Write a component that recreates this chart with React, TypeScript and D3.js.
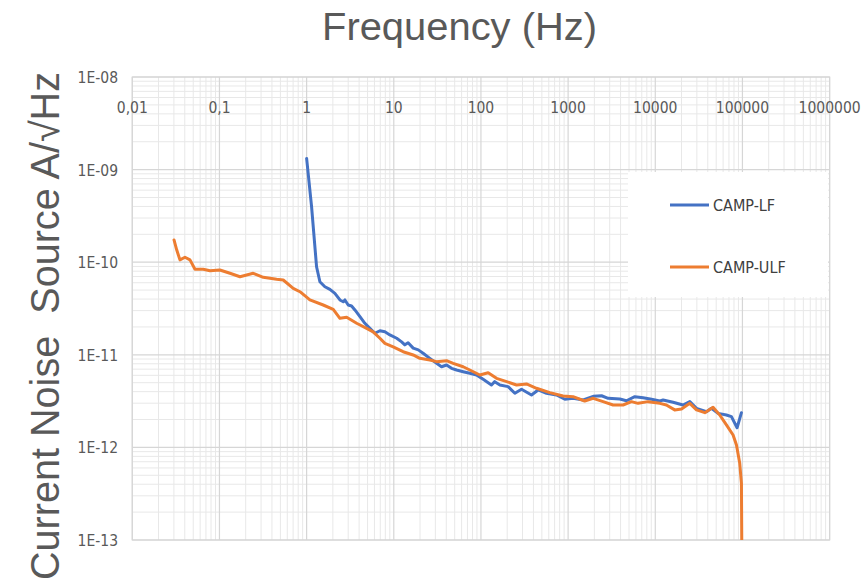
import React from "react";
import * as d3 from "d3";

const title = "Frequency (Hz)";
const yTitle = "Current Noise  Source A/\u221AHz";

const xTicks = [0.01, 0.1, 1, 10, 100, 1000, 10000, 100000, 1000000];
const xTickLabels = ["0,01", "0,1", "1", "10", "100", "1000", "10000", "100000", "1000000"];
const yTicks = [1e-8, 1e-9, 1e-10, 1e-11, 1e-12, 1e-13];
const yTickLabels = ["1E-08", "1E-09", "1E-10", "1E-11", "1E-12", "1E-13"];

const seriesNames = ["CAMP-LF", "CAMP-ULF"];
const seriesColors = ["#4472C4", "#ED7D31"];

const lfFreq = [1, 1.14, 1.30, 1.42, 1.62, 1.85, 2.11, 2.41, 2.63, 2.75, 3.00, 3.28, 3.58, 4.09, 4.66, 5.32, 6.07, 6.93, 7.91, 9.02, 10.8, 12.3, 13.4, 14.6, 16.7, 19.1, 21.7, 25.9, 31.0, 35.3, 40.3, 46.0, 52.5, 62.5, 74.6, 89.0, 106, 132, 144, 165, 205, 245, 292, 380, 453, 565, 736, 917, 1140, 1490, 1940, 2420, 2880, 3920, 4670, 5820, 7250, 9050, 11300, 12300, 16000, 20800, 24900, 29700, 38700, 44100, 52500, 65500, 74800, 86800, 97400];
const lfNoise = [1.32e-9, 3.97e-10, 8.93e-11, 6.15e-11, 5.43e-11, 5.09e-11, 4.61e-11, 3.91e-11, 3.74e-11, 3.91e-11, 3.45e-11, 3.37e-11, 3.05e-11, 2.58e-11, 2.19e-11, 1.93e-11, 1.71e-11, 1.82e-11, 1.77e-11, 1.64e-11, 1.51e-11, 1.38e-11, 1.28e-11, 1.35e-11, 1.18e-11, 1.13e-11, 1.04e-11, 9.16e-12, 8.09e-12, 7.43e-12, 7.76e-12, 7.14e-12, 6.85e-12, 6.57e-12, 6.31e-12, 6.05e-12, 5.43e-12, 4.72e-12, 5.13e-12, 4.72e-12, 4.53e-12, 3.84e-12, 4.24e-12, 3.68e-12, 4.17e-12, 3.84e-12, 3.68e-12, 3.31e-12, 3.39e-12, 3.25e-12, 3.56e-12, 3.61e-12, 3.39e-12, 3.33e-12, 3.19e-12, 3.53e-12, 3.44e-12, 3.31e-12, 3.17e-12, 3.25e-12, 3.07e-12, 2.87e-12, 3.12e-12, 2.64e-12, 2.43e-12, 2.64e-12, 2.33e-12, 2.24e-12, 2.15e-12, 1.63e-12, 2.37e-12];

const ulfFreq = [0.0301, 0.0323, 0.0352, 0.0402, 0.0459, 0.0524, 0.0652, 0.0778, 0.101, 0.132, 0.172, 0.244, 0.318, 0.453, 0.539, 0.702, 0.838, 1.09, 1.55, 2.02, 2.41, 2.88, 3.75, 4.88, 5.80, 6.93, 7.91, 9.84, 12.8, 16.7, 19.9, 25.9, 31.0, 40.3, 48.0, 62.5, 74.6, 97.1, 121, 151, 197, 256, 333, 434, 617, 876, 1140, 1550, 1940, 2520, 3280, 4270, 5330, 6350, 8270, 11300, 13400, 16700, 20000, 24900, 29700, 37000, 46000, 54900, 65500, 78100, 85400, 93100, 97400, 98200];
const ulfNoise = [1.74e-10, 1.36e-10, 1.06e-10, 1.13e-10, 1.06e-10, 8.38e-11, 8.38e-11, 8.09e-11, 8.24e-11, 7.59e-11, 6.97e-11, 7.59e-11, 6.87e-11, 6.53e-11, 6.42e-11, 5.22e-11, 4.80e-11, 3.91e-11, 3.45e-11, 3.10e-11, 2.48e-11, 2.54e-11, 2.19e-11, 1.93e-11, 1.77e-11, 1.51e-11, 1.33e-11, 1.22e-11, 1.08e-11, 9.96e-12, 9.16e-12, 8.79e-12, 8.43e-12, 8.63e-12, 8.09e-12, 7.43e-12, 6.85e-12, 6.05e-12, 6.41e-12, 5.57e-12, 5.13e-12, 4.72e-12, 4.84e-12, 4.35e-12, 3.90e-12, 3.59e-12, 3.53e-12, 3.17e-12, 3.39e-12, 3.12e-12, 2.87e-12, 2.87e-12, 3.12e-12, 2.99e-12, 3.12e-12, 2.99e-12, 2.87e-12, 2.54e-12, 2.60e-12, 2.99e-12, 2.54e-12, 2.37e-12, 2.71e-12, 2.24e-12, 1.75e-12, 1.36e-12, 1.06e-12, 6.73e-13, 4.09e-13, 1e-13];

const W = 866;
const H = 586;
const plot = { left: 132.3, right: 829.6, top: 77, bottom: 540 };

export default function App() {
  const x = d3.scaleLog().domain([0.01, 1e6]).range([plot.left, plot.right]);
  const y = d3.scaleLog().domain([1e-8, 1e-13]).range([plot.top, plot.bottom]);

  const minorX: number[] = [];
  for (let e = -2; e < 6; e++) for (let k = 2; k <= 9; k++) minorX.push(k * Math.pow(10, e));
  const minorY: number[] = [];
  for (let e = -13; e < -8; e++) for (let k = 2; k <= 9; k++) minorY.push(k * Math.pow(10, e));

  const line = d3
    .line<[number, number]>()
    .x((d) => x(d[0]))
    .y((d) => y(d[1]));

  const lfData: [number, number][] = lfFreq.map((f, i) => [f, lfNoise[i]]);
  const ulfData: [number, number][] = ulfFreq.map((f, i) => [f, ulfNoise[i]]);

  const tickFont = "'Liberation Sans Narrow', 'DejaVu Sans Condensed', 'Roboto Condensed', sans-serif";
  const titleFont = "'Liberation Sans', Arial, sans-serif";

  return (
    <svg width={W} height={H} style={{ position: "absolute", left: 0, top: 0, background: "#fff" }}>
      <defs>
        <clipPath id="plotclip">
          <rect x={plot.left} y={plot.top - 2} width={plot.right - plot.left} height={plot.bottom - plot.top + 2} />
        </clipPath>
      </defs>
      <rect x={0} y={0} width={W} height={H} fill="#fff" />
      {/* minor grid */}
      {minorX.map((v, i) => (
        <line key={"mx" + i} x1={x(v)} x2={x(v)} y1={plot.top} y2={plot.bottom} stroke="#e8e8e8" strokeWidth={1} />
      ))}
      {minorY.map((v, i) => (
        <line key={"my" + i} x1={plot.left} x2={plot.right} y1={y(v)} y2={y(v)} stroke="#e8e8e8" strokeWidth={1} />
      ))}
      {/* major grid */}
      {xTicks.map((v, i) => (
        <line key={"Mx" + i} x1={x(v)} x2={x(v)} y1={plot.top} y2={plot.bottom} stroke="#d6d6d6" strokeWidth={1.2} />
      ))}
      {yTicks.map((v, i) => (
        <line key={"My" + i} x1={plot.left} x2={plot.right} y1={y(v)} y2={y(v)} stroke="#d6d6d6" strokeWidth={1.2} />
      ))}
      <rect x={plot.left} y={plot.top} width={plot.right - plot.left} height={plot.bottom - plot.top} fill="none" stroke="#d6d6d6" strokeWidth={1.2} />

      {/* x tick labels */}
      {xTicks.map((v, i) => (
        <text key={"xl" + i} x={x(v)} y={112.5} textAnchor="middle" fontFamily={tickFont} fontSize={15.5} fill="#595959">
          {xTickLabels[i]}
        </text>
      ))}
      {/* y tick labels */}
      {yTicks.map((v, i) => (
        <text key={"yl" + i} x={118} y={y(v) + 6} textAnchor="end" fontFamily={tickFont} fontSize={15.5} fill="#595959">
          {yTickLabels[i]}
        </text>
      ))}

      {/* legend box */}
      <rect x={628} y={172} width={200} height={125} fill="#fff" />
      {seriesNames.map((n, i) => {
        const ly = 205 + i * 62;
        return (
          <g key={"lg" + i}>
            <line x1={670} x2={709} y1={ly} y2={ly} stroke={seriesColors[i]} strokeWidth={3} />
            <text x={713} y={ly + 6} fontFamily={tickFont} fontSize={16} fill="#404040">
              {n}
            </text>
          </g>
        );
      })}

      {/* series */}
      <g clipPath="url(#plotclip)">
        <path d={line(lfData) || ""} fill="none" stroke={seriesColors[0]} strokeWidth={3} strokeLinejoin="round" strokeLinecap="round" />
        <path d={line(ulfData) || ""} fill="none" stroke={seriesColors[1]} strokeWidth={3} strokeLinejoin="round" strokeLinecap="round" />
      </g>

      {/* titles */}
      <text x={459.5} y={40} textAnchor="middle" fontFamily={titleFont} fontSize={38} fill="#595959" textLength={275} lengthAdjust="spacingAndGlyphs">
        {title}
      </text>
      <text
        transform="translate(59,326) rotate(-90)"
        textAnchor="middle"
        fontFamily={titleFont}
        fontSize={40}
        fill="#595959"
        style={{ whiteSpace: "pre" }}
        textLength={508}
        lengthAdjust="spacingAndGlyphs"
      >
        {yTitle}
      </text>
    </svg>
  );
}
